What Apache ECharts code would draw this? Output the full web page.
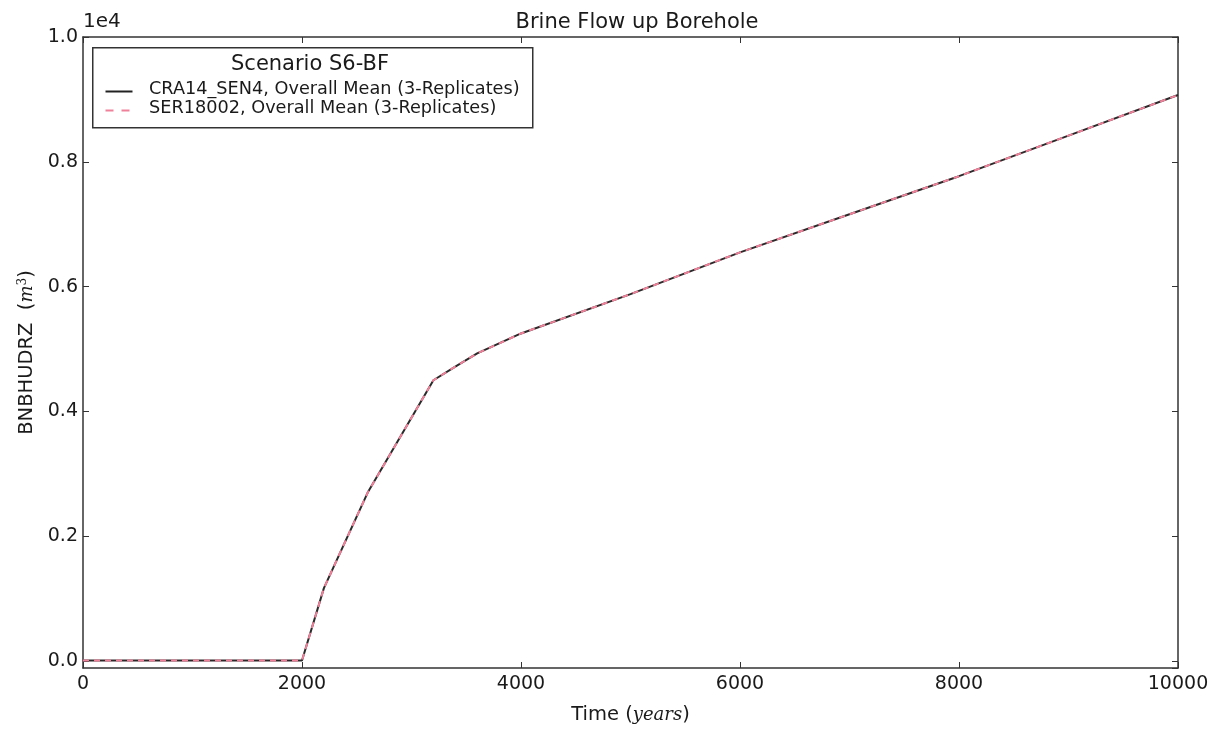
<!DOCTYPE html>
<html>
<head>
<meta charset="utf-8">
<script src="https://cdn.jsdelivr.net/npm/echarts@6/dist/echarts.min.js"></script>
<style>
html,body{margin:0;padding:0;background:#fff;}
#chart{width:1212px;height:730px;}
</style>
</head>
<body>
<div id="chart"></div>
<script>
// Time (years)
const timeYears = [0, 2000, 2200, 2600, 3200, 3400, 3600, 4000, 5000, 6000, 7000, 8000, 9000, 10000];
// BNBHUDRZ (m^3), CRA14_SEN4 overall mean
const cra14Values = [10, 10, 1170, 2700, 4500, 4720, 4930, 5250, 5880, 6550, 7160, 7770, 8420, 9070];
// BNBHUDRZ (m^3), SER18002 overall mean
const ser18Values = [10, 10, 1170, 2700, 4500, 4720, 4930, 5250, 5880, 6550, 7160, 7770, 8420, 9070];
const seriesNames = ['CRA14_SEN4, Overall Mean (3-Replicates)', 'SER18002, Overall Mean (3-Replicates)'];
const xTicks = [0, 2000, 4000, 6000, 8000, 10000];
const yTicks = ['0.0', '0.2', '0.4', '0.6', '0.8', '1.0'];

const FONT = 'DejaVu Sans';
const TXT = '#1a1a1a';
const axisCol = '#333';
const xMin = 0, xMax = 10000, yMin = -110, yMax = 10000;

const chart = echarts.init(document.getElementById('chart'), null, {renderer: 'canvas'});
const toPairs = (xs, ys) => xs.map((x, i) => [x, ys[i]]);

const baseX = {
  type: 'value', min: xMin, max: xMax, splitNumber: xTicks.length - 1,
  axisLine: {show: true, onZero: false, lineStyle: {color: axisCol, width: 1.5}},
  axisTick: {show: true, inside: true, length: 6, lineStyle: {color: axisCol, width: 1}},
  splitLine: {show: false}
};
const baseY = {
  type: 'value', min: yMin, max: yMax, splitNumber: yTicks.length - 1,
  axisLine: {show: true, onZero: false, lineStyle: {color: axisCol, width: 1.5}},
  axisTick: {show: true, inside: true, length: 6, lineStyle: {color: axisCol, width: 1}},
  splitLine: {show: false}
};

chart.setOption({
  animation: false,
  backgroundColor: '#fff',
  textStyle: {fontFamily: FONT},
  grid: {left: 83, right: 34, top: 37, bottom: 60, containLabel: false},
  title: {
    text: 'Brine Flow up Borehole', left: 637, top: 12, textAlign: 'center', padding: 0,
    textStyle: {fontFamily: FONT, fontSize: 21, fontWeight: 'normal', color: TXT}
  },
  legend: {
    orient: 'vertical', left: 103, top: 80, padding: 0, itemGap: 0, itemWidth: 27, itemHeight: 19, z: 10,
    textStyle: {fontFamily: FONT, fontSize: 17.7, color: TXT, padding: [0, 0, 0, 14]},
    data: seriesNames.map(n => ({name: n, icon: 'none'})),
    selectedMode: false
  },
  xAxis: [
    Object.assign({}, baseX, {
      position: 'bottom',
      name: 'Time ({i|years})', nameLocation: 'middle', nameGap: 37,
      nameTextStyle: {fontFamily: FONT, fontSize: 19.5, color: TXT,
        rich: {i: {fontFamily: 'DejaVu Serif', fontStyle: 'italic', fontSize: 18, color: TXT}}},
      axisLabel: {show: true, margin: 7, fontFamily: FONT, fontSize: 19, color: TXT,
        formatter: v => (xTicks.indexOf(v) >= 0 ? String(v) : '')}
    }),
    Object.assign({}, baseX, {position: 'top', axisLabel: {show: false}})
  ],
  yAxis: [
    Object.assign({}, baseY, {
      position: 'left',
      name: 'BNBHUDRZ  ({i|m}{s|3})', nameLocation: 'middle', nameGap: 45,
      nameTextStyle: {fontFamily: FONT, fontSize: 19.5, color: TXT,
        rich: {i: {fontFamily: 'DejaVu Serif', fontStyle: 'italic', fontSize: 18, color: TXT},
               s: {fontFamily: 'DejaVu Serif', fontSize: 12, color: TXT, verticalAlign: 'top', padding: [0, 0, 9, 0]}}},
      axisLabel: {show: true, margin: 5, fontFamily: FONT, fontSize: 19, color: TXT, showMinLabel: false,
        formatter: v => { const s = (v / 10000).toFixed(1); return yTicks.indexOf(s) >= 0 && v >= 0 ? s : ''; }}
    }),
    Object.assign({}, baseY, {position: 'right', axisLabel: {show: false}})
  ],
  graphic: [
    {type: 'rect', left: 92, top: 47, z: 5, shape: {width: 440, height: 80},
     style: {fill: '#fff', stroke: '#333', lineWidth: 1.5}},
    {type: 'text', left: 231, top: 54, z: 6,
     style: {text: 'Scenario S6-BF', fontFamily: FONT, fontSize: 21, fill: TXT}},
    {type: 'text', left: 83, top: 12, z: 6,
     style: {text: '1e4', fontFamily: FONT, fontSize: 20, fill: TXT}},
    {type: 'line', left: 103, top: 89, z: 6, shape: {x1: 0, y1: 0, x2: 27, y2: 0},
     style: {stroke: '#222', lineWidth: 2}},
    {type: 'line', left: 103, top: 108, z: 6, shape: {x1: 0, y1: 0, x2: 27, y2: 0},
     style: {stroke: '#f0819a', lineWidth: 2, lineDash: [8, 8]}}
  ],
  series: [
    {name: seriesNames[0], type: 'line', xAxisIndex: 0, yAxisIndex: 0, showSymbol: false, symbol: 'none',
     data: toPairs(timeYears, cra14Values), lineStyle: {color: '#2a2a2a', width: 2}, itemStyle: {color: '#2a2a2a'}, z: 2},
    {name: seriesNames[1], type: 'line', xAxisIndex: 0, yAxisIndex: 0, showSymbol: false, symbol: 'none',
     data: toPairs(timeYears, ser18Values), lineStyle: {color: '#f0819a', width: 2, type: [6, 5]}, itemStyle: {color: '#f0819a'}, z: 3}
  ]
});
</script>
</body>
</html>
